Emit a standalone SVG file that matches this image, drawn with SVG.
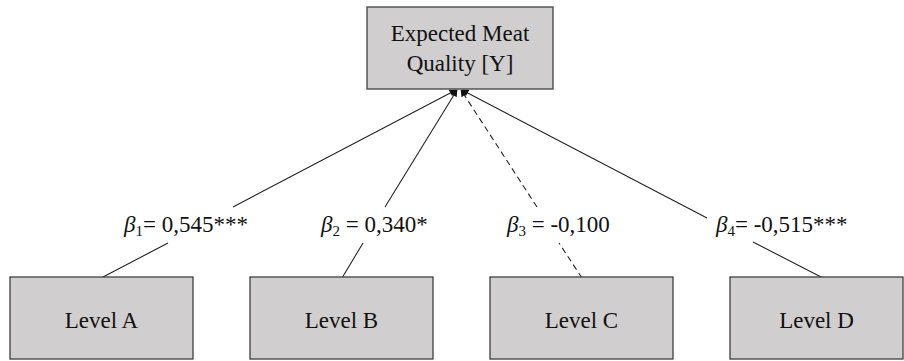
<svg xmlns="http://www.w3.org/2000/svg" width="904" height="361" viewBox="0 0 904 361">
<style>
.box{fill:#d0cece;stroke:#404040;stroke-width:1.3}
.t{font-family:"Liberation Serif","Times New Roman",serif;font-size:23px;fill:#111;text-anchor:middle}
.lb{font-family:"Liberation Serif","Times New Roman",serif;font-size:23px;fill:#111}
.c{stroke:#222;stroke-width:1.1;fill:none}
.d{stroke-dasharray:6,4}
</style>
<defs>
<marker id="ah" viewBox="0 0 10 10" refX="9" refY="5" markerWidth="8" markerHeight="7" orient="auto" markerUnits="userSpaceOnUse">
<path d="M0,0 L10,5 L0,10 z" fill="#111"/>
</marker>
</defs>
<rect width="904" height="361" fill="#fff"/>
<g id="connectors">
<line class="c" x1="233" y1="207" x2="456" y2="90" marker-end="url(#ah)"/>
<line class="c" x1="103" y1="277" x2="168" y2="243"/>
<line class="c" x1="385" y1="207" x2="457" y2="90" marker-end="url(#ah)"/>
<line class="c" x1="342" y1="278" x2="363" y2="243"/>
<line class="c d" x1="537" y1="207" x2="461" y2="90" marker-end="url(#ah)"/>
<line class="c d" x1="582" y1="278" x2="559" y2="243"/>
<line class="c" x1="707" y1="218" x2="462" y2="90" marker-end="url(#ah)"/>
<line class="c" x1="823" y1="278" x2="753" y2="242"/>
</g>
<g id="labels">
<text class="lb" x="124" y="232"><tspan font-style="italic">β</tspan><tspan font-size="15" dy="4">1</tspan><tspan dy="-4">= 0,545***</tspan></text>
<text class="lb" x="321" y="232"><tspan font-style="italic">β</tspan><tspan font-size="15" dy="4">2</tspan><tspan dy="-4"> = 0,340*</tspan></text>
<text class="lb" x="507" y="232"><tspan font-style="italic">β</tspan><tspan font-size="15" dy="4">3</tspan><tspan dy="-4"> = -0,100</tspan></text>
<text class="lb" x="716" y="232"><tspan font-style="italic">β</tspan><tspan font-size="15" dy="4">4</tspan><tspan dy="-4">= -0,515***</tspan></text>
</g>
<g id="node-y">
<rect class="box" x="367" y="7" width="186" height="82"/>
<text class="t" x="460" y="41">Expected Meat</text>
<text class="t" x="460" y="71">Quality [Y]</text>
</g>
<g id="node-a">
<rect class="box" x="10" y="277" width="183" height="82"/>
<text class="t" x="101.5" y="328">Level A</text>
</g>
<g id="node-b">
<rect class="box" x="250" y="277" width="183" height="82"/>
<text class="t" x="341.5" y="328">Level B</text>
</g>
<g id="node-c">
<rect class="box" x="490" y="277" width="183" height="82"/>
<text class="t" x="581.5" y="328">Level C</text>
</g>
<g id="node-d">
<rect class="box" x="730" y="277" width="173" height="82"/>
<text class="t" x="816.5" y="328">Level D</text>
</g>
</svg>
